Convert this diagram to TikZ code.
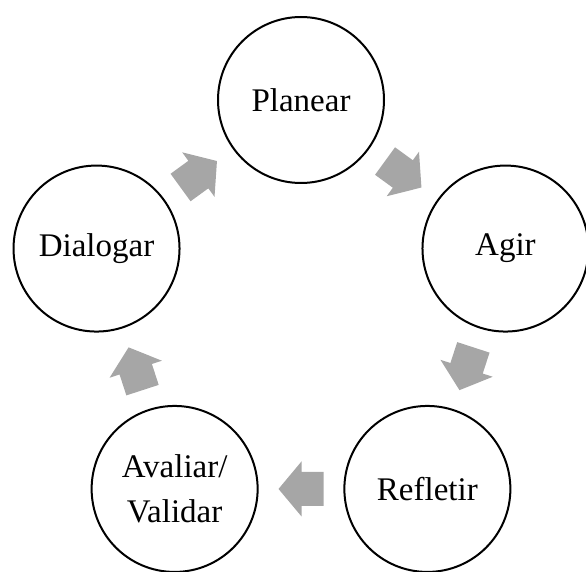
\documentclass[tikz,border=0pt]{standalone}
\usepackage{fontspec}
\setmainfont{Liberation Serif}
\usetikzlibrary{calc}
\definecolor{arrowgray}{HTML}{A6A6A6}
\begin{document}
\begin{tikzpicture}[x=1pt,y=1pt,
  stage/.style={circle, draw=black, line width=2pt, minimum size=166pt, inner sep=0pt,
    align=center, font=\fontsize{33}{45}\selectfont},
  blockarrow/.pic={\fill[arrowgray] (22.5,0) -- (-0.5,27.5) -- (-0.5,17) -- (-22.5,17)
    -- (-22.5,-17) -- (-0.5,-17) -- (-0.5,-27.5) -- cycle;}]
\useasboundingbox (0,0) rectangle (586,571);
\clip (0,0) rectangle (586,571);
\coordinate (o) at (301,256);
\node[stage] (planear) at ($(o)+(90:215)$) {Planear};
\node[stage] (agir) at ($(o)+(18:215)$) {Agir};
\node[stage] (refletir) at ($(o)+(-54:215)$) {Refletir};
\node[stage] (avaliar) at ($(o)+(-126:215)$) {Avaliar/\\Validar};
\node[stage] (dialogar) at ($(o)+(162:215)$) {Dialogar};
\coordinate (a1) at ($(planear)!0.5!(agir)$);
\coordinate (a2) at ($(agir)!0.5!(refletir)$);
\coordinate (a3) at ($(refletir)!0.5!(avaliar)$);
\coordinate (a4) at ($(avaliar)!0.5!(dialogar)$);
\coordinate (a5) at ($(dialogar)!0.5!(planear)$);
\pic[rotate=-36] at (a1) {blockarrow};
\pic[rotate=-108] at (a2) {blockarrow};
\pic[rotate=180] at (a3) {blockarrow};
\pic[rotate=108] at (a4) {blockarrow};
\pic[rotate=36] at (a5) {blockarrow};
\end{tikzpicture}
\end{document}
